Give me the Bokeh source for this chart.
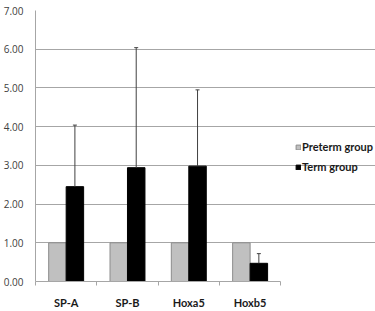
from bokeh.plotting import figure
from bokeh.models import (ColumnDataSource, FixedTicker, Range1d, Legend, LegendItem,
                          Whisker, TeeHead, NumeralTickFormatter)
from bokeh.embed import file_html
from bokeh.resources import INLINE

categories = ["SP-A", "SP-B", "Hoxa5", "Hoxb5"]
preterm = [1.00, 1.00, 1.00, 1.00]
term = [2.45, 2.94, 2.98, 0.47]
term_sd = [1.59, 3.10, 1.97, 0.25]
y_ticks = [0, 1, 2, 3, 4, 5, 6, 7]

# layout: plot area 34..280 px wide for the categories, legend at right inside frame
LEFT, AREA_RIGHT, TOTAL_W = 34, 280, 375
n = len(categories)
x_end = n * (TOTAL_W - LEFT) / (AREA_RIGHT - LEFT)

W = 0.285
centers = [i + 0.5 for i in range(n)]
src = ColumnDataSource(dict(
    xp=[c - W / 2 for c in centers],
    xt=[c + W / 2 for c in centers],
    pre=preterm,
    term=term,
    upper=[t + s for t, s in zip(term, term_sd)],
))

p = figure(width=TOTAL_W, height=311, output_backend="svg", toolbar_location=None,
           x_range=Range1d(0, x_end), y_range=Range1d(0, 7),
           min_border_left=LEFT, min_border_right=0, min_border_top=10,
           min_border_bottom=25)
p.outline_line_color = None
p.background_fill_color = "white"
p.border_fill_color = "white"

r_pre = p.vbar(x="xp", top="pre", width=W, source=src, fill_color="#c0c0c0",
               line_color="#8c8c8c", line_width=1)
r_term = p.vbar(x="xt", top="term", width=W, source=src, fill_color="black",
                line_color="black", line_width=1)

wh = Whisker(source=src, base="xt", lower="term", upper="upper",
             line_color="#404040", line_width=1,
             upper_head=TeeHead(size=4, line_color="#404040", line_width=1),
             lower_head=None, level="overlay")
p.add_layout(wh)

# y axis
p.yaxis.ticker = FixedTicker(ticks=y_ticks)
p.yaxis.formatter = NumeralTickFormatter(format="0.00")
p.yaxis.major_tick_line_color = None
p.yaxis.minor_tick_line_color = None
p.yaxis.major_tick_out = 0
p.yaxis.major_label_standoff = 12
p.yaxis.axis_line_color = "#a6a6a6"
p.yaxis.major_label_text_font = "Open Sans"
p.yaxis.major_label_text_font_size = "10px"
p.yaxis.major_label_text_color = "#404040"

# x axis
p.xaxis.bounds = (0, n)
p.xaxis.ticker = FixedTicker(ticks=centers, minor_ticks=list(range(n + 1)))
p.xaxis.major_label_overrides = {c: lab for c, lab in zip(centers, categories)}
p.xaxis.major_tick_line_color = None
p.xaxis.major_tick_out = 0
p.xaxis.major_tick_in = 0
p.xaxis.minor_tick_out = 4
p.xaxis.minor_tick_in = 0
p.xaxis.minor_tick_line_color = "#a6a6a6"
p.xaxis.axis_line_color = "#a6a6a6"
p.xaxis.major_label_standoff = 10
p.xaxis.major_label_text_font = "Lato"
p.xaxis.major_label_text_font_style = "bold"
p.xaxis.major_label_text_font_size = "11px"
p.xaxis.major_label_text_color = "#1a1a1a"

p.xgrid.grid_line_color = None
p.ygrid.grid_line_color = "#a6a6a6"
p.ygrid.grid_line_width = 1
p.ygrid.bounds = (0, n)

legend = Legend(items=[LegendItem(label="Preterm group", renderers=[r_pre]),
                       LegendItem(label="Term group", renderers=[r_term])],
                location=(260, 108), padding=0, margin=0, spacing=7,
                glyph_width=6, glyph_height=6, label_height=12, label_standoff=1,
                label_text_font="Lato", label_text_font_style="bold",
                label_text_font_size="11px", label_text_color="#1a1a1a",
                border_line_color=None, background_fill_alpha=0)
p.add_layout(legend)

open("out.html", "w").write(file_html(p, INLINE))
